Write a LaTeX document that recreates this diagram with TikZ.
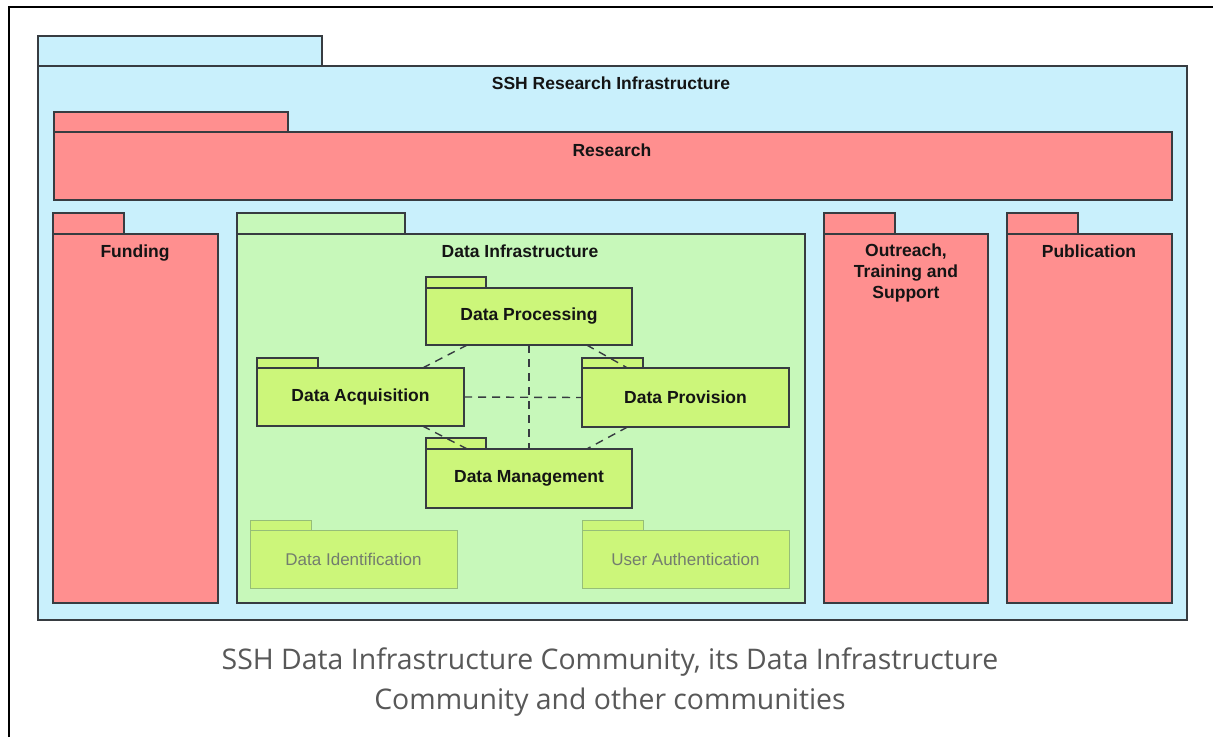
\documentclass[tikz,border=0pt]{standalone}
\usepackage{fontspec}
\setmainfont{Liberation Sans}
\newfontfamily\capfont{Open Sans}
\usetikzlibrary{calc}
\definecolor{sshblue}{RGB}{201,240,252}
\definecolor{pkred}{RGB}{255,143,143}
\definecolor{infgreen}{RGB}{199,248,186}
\definecolor{lime}{RGB}{204,246,122}
\definecolor{edge}{RGB}{55,60,65}
\definecolor{fadeedge}{RGB}{150,190,120}
\definecolor{fadetext}{RGB}{115,125,110}
\definecolor{captext}{RGB}{88,88,88}
\tikzset{
  pkg/.style={draw=edge, line width=1.3pt, rectangle, inner sep=0pt, outer sep=0pt},
  fadepkg/.style={draw=fadeedge, line width=1pt, rectangle, inner sep=0pt, outer sep=0pt, fill=lime, text=fadetext, font=\fontsize{17}{20}\selectfont},
  title/.style={font=\bfseries\fontsize{17.5}{21}\selectfont, text=black!92, inner sep=0pt, anchor=base, align=center},
  small/.style={pkg, fill=lime, font=\bfseries\fontsize{17.5}{20}\selectfont, text=black!92},
  link/.style={draw=edge, line width=1.4pt, dash pattern=on 8pt off 6pt},
}
\begin{document}
\begin{tikzpicture}[x=1pt,y=-1pt]
\fill[white] (0,0) rectangle (1213,737);
\useasboundingbox (0,0) rectangle (1213,737);
% frame
\coordinate (fa) at (9,737);
\coordinate (fb) at (9,7);
\coordinate (fc) at (1213,7);
\draw[black, line width=2.6pt] (fa) -- (fb) -- (fc);
% SSH
\node[pkg, fill=sshblue, anchor=north west, minimum width=284pt, minimum height=30pt] (sshtab) at (38,36) {};
\node[pkg, fill=sshblue, anchor=north west, minimum width=1149pt, minimum height=554pt] (ssh) at (38,66) {};
\node[title] (sshl) at (611,89) {SSH Research Infrastructure};
% Research
\node[pkg, fill=pkred, anchor=north west, minimum width=234pt, minimum height=20pt] (restab) at (54,112) {};
\node[pkg, fill=pkred, anchor=north west, minimum width=1118pt, minimum height=68pt] (res) at (54,132) {};
\node[title] (resl) at (612,156) {Research};
% Funding
\node[pkg, fill=pkred, anchor=north west, minimum width=71pt, minimum height=21pt] (funtab) at (53,213) {};
\node[pkg, fill=pkred, anchor=north west, minimum width=165pt, minimum height=369pt] (fun) at (53,234) {};
\node[title] (funl) at (135,257) {Funding};
% Data Infrastructure
\node[pkg, fill=infgreen, anchor=north west, minimum width=168pt, minimum height=21pt] (inftab) at (237,213) {};
\node[pkg, fill=infgreen, anchor=north west, minimum width=568pt, minimum height=369pt] (inf) at (237,234) {};
\node[title] (infl) at (520,257) {Data Infrastructure};
% Outreach
\node[pkg, fill=pkred, anchor=north west, minimum width=71pt, minimum height=21pt] (outtab) at (824,213) {};
\node[pkg, fill=pkred, anchor=north west, minimum width=164pt, minimum height=369pt] (out) at (824,234) {};
\node[title, anchor=north] (outl) at (906,244) {Outreach,\\Training and\\Support};
% Publication
\node[pkg, fill=pkred, anchor=north west, minimum width=71pt, minimum height=21pt] (pubtab) at (1007,213) {};
\node[pkg, fill=pkred, anchor=north west, minimum width=165pt, minimum height=369pt] (pub) at (1007,234) {};
\node[title] (publ) at (1089,257) {Publication};
% inner packages
\node[small, anchor=north west, minimum width=60pt, minimum height=11pt] (dproctab) at (426,277) {};
\node[small, anchor=north west, minimum width=206pt, minimum height=57pt] (dproc) at (426,288) {Data Processing};
\node[small, anchor=north west, minimum width=61pt, minimum height=10pt] (dacqtab) at (257,358) {};
\node[small, anchor=north west, minimum width=207pt, minimum height=58pt] (dacq) at (257,368) {Data Acquisition};
\node[small, anchor=north west, minimum width=61pt, minimum height=10pt] (dprovtab) at (582,358) {};
\node[small, anchor=north west, minimum width=207pt, minimum height=59pt] (dprov) at (582,368) {Data Provision};
\node[small, anchor=north west, minimum width=60pt, minimum height=11pt] (dmantab) at (426,438) {};
\node[small, anchor=north west, minimum width=206pt, minimum height=59pt] (dman) at (426,449) {Data Management};
\node[fadepkg, anchor=north west, minimum width=61pt, minimum height=10pt] (didtab) at (250,520) {};
\node[fadepkg, anchor=north west, minimum width=207pt, minimum height=58pt] (did) at (250,530) {Data Identification};
\node[fadepkg, anchor=north west, minimum width=61pt, minimum height=10pt] (uauthtab) at (582,520) {};
\node[fadepkg, anchor=north west, minimum width=207pt, minimum height=58pt] (uauth) at (582,530) {User Authentication};
% dashed links
\draw[link] (dproc.south) -- (dman.north);
\draw[link] (dacq.east) -- (dprov.west);
\draw[link] ($(dproc.south west)!0.2!(dproc.south east)$) -- ($(dacq.north west)!0.8!(dacq.north east)$);
\draw[link] ($(dproc.south west)!0.78!(dproc.south east)$) -- ($(dprov.north west)!0.22!(dprov.north east)$);
\draw[link] ($(dacq.south west)!0.8!(dacq.south east)$) -- ($(dman.north west)!0.2!(dman.north east)$);
\draw[link] ($(dprov.south west)!0.22!(dprov.south east)$) -- ($(dman.north west)!0.78!(dman.north east)$);
% caption
\node[font=\capfont\fontsize{28.4}{40}\selectfont, text=captext, align=center, anchor=base, inner sep=0pt] (cap) at (610,709) {SSH Data Infrastructure Community, its Data Infrastructure\\Community and other communities};
\end{tikzpicture}
\end{document}
